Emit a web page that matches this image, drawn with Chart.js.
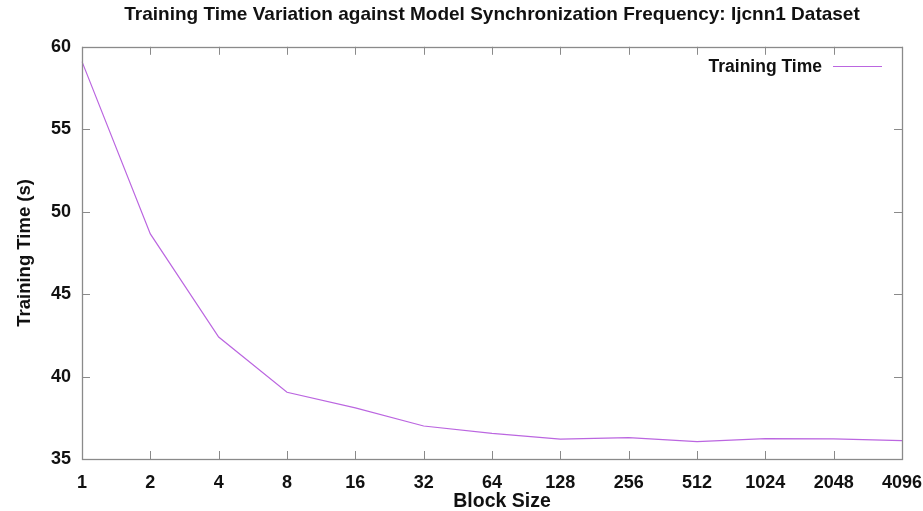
<!DOCTYPE html>
<html>
<head>
<meta charset="utf-8">
<script src="https://cdn.jsdelivr.net/npm/chart.js@4/dist/chart.umd.min.js"></script>
<style>
html,body{margin:0;padding:0;background:#fff;}
#wrap{width:923px;height:511px;position:relative;}
</style>
</head>
<body>
<div id="wrap"><canvas id="c" width="923" height="511"></canvas></div>
<script>
const blockSizes = ["1","2","4","8","16","32","64","128","256","512","1024","2048","4096"];
const trainingTime = [59.1, 48.65, 42.4, 39.05, 38.1, 37.0, 36.55, 36.2, 36.3, 36.05, 36.23, 36.22, 36.12];
const yTicks = [35, 40, 45, 50, 55, 60];
const chartTitle = "Training Time Variation against Model Synchronization Frequency: Ijcnn1 Dataset";
const seriesLabel = "Training Time";
const xTitle = "Block Size";
const yTitle = "Training Time (s)";

const FONT = "'Liberation Sans', Arial, sans-serif";
const LINE_COLOR = '#bb66e0';
const FRAME_COLOR = '#8a8a8a';

const framePlugin = {
  id: 'frame',
  afterDatasetsDraw(chart) {
    const {ctx, chartArea: a, scales} = chart;
    ctx.save();
    ctx.strokeStyle = FRAME_COLOR;
    ctx.lineWidth = 1;
    const T = 8;
    ctx.beginPath();
    scales.x.ticks.forEach((t, i) => {
      const px = Math.round(scales.x.getPixelForTick(i)) + 0.5;
      ctx.moveTo(px, a.bottom); ctx.lineTo(px, a.bottom - T);
      ctx.moveTo(px, a.top); ctx.lineTo(px, a.top + T);
    });
    scales.y.ticks.forEach((t) => {
      const py = Math.round(scales.y.getPixelForValue(t.value)) + 0.5;
      ctx.moveTo(a.left, py); ctx.lineTo(a.left + T, py);
      ctx.moveTo(a.right, py); ctx.lineTo(a.right - T, py);
    });
    ctx.stroke();
    ctx.lineWidth = 1.3;
    ctx.strokeRect(Math.round(a.left) + 0.5, Math.round(a.top) + 0.5, Math.round(a.right - a.left), Math.round(a.bottom - a.top));
    // legend
    const ds = chart.data.datasets[0];
    ctx.font = "bold 17.5px " + FONT;
    ctx.fillStyle = '#111';
    ctx.textAlign = 'right';
    ctx.textBaseline = 'middle';
    ctx.fillText(ds.label, 822, 67);
    ctx.strokeStyle = ds.borderColor;
    ctx.lineWidth = 1;
    ctx.beginPath();
    ctx.moveTo(833, 66.5); ctx.lineTo(882, 66.5);
    ctx.stroke();
    // x axis title (gnuplot places it slightly right of centre)
    ctx.font = "bold 19.5px " + FONT;
    ctx.fillStyle = '#111';
    ctx.textAlign = 'center';
    ctx.fillText(xTitle, (a.left + a.right) / 2 + 10, 502);
    ctx.restore();
  }
};

new Chart(document.getElementById('c'), {
  type: 'line',
  data: {
    labels: blockSizes,
    datasets: [{
      label: seriesLabel,
      data: trainingTime,
      borderColor: LINE_COLOR,
      borderWidth: 1.2,
      pointRadius: 0,
      tension: 0,
      fill: false
    }]
  },
  options: {
    responsive: false,
    animation: false,
    devicePixelRatio: 1,
    layout: {padding: {left: 0, right: 21, top: 0, bottom: 0}},
    plugins: {
      legend: {display: false},
      tooltip: {enabled: false},
      title: {
        display: true,
        fullSize: false,
        text: chartTitle,
        color: '#111',
        font: {family: FONT, size: 19, weight: 'bold'},
        padding: {top: 3, bottom: 21}
      }
    },
    scales: {
      x: {
        type: 'category',
        offset: false,
        grid: {display: false, drawTicks: false},
        border: {display: false},
        ticks: {
          color: '#111',
          font: {family: FONT, size: 18, weight: 'bold'},
          padding: 13,
          maxRotation: 0,
          autoSkip: false
        },
        title: {display: false},
        afterFit(s) { s.height = 52; s.paddingRight = 0; s.paddingLeft = 0; }
      },
      y: {
        min: 35, max: 60,
        afterBuildTicks(s) { s.ticks = yTicks.map(v => ({value: v})); },
        grid: {display: false, drawTicks: false},
        border: {display: false},
        ticks: {
          color: '#111',
          font: {family: FONT, size: 18, weight: 'bold'},
          padding: 11
        },
        title: {
          display: true,
          text: yTitle,
          color: '#111',
          font: {family: FONT, size: 18.5, weight: 'bold'},
          padding: {top: 14, bottom: 0}
        },
        afterFit(s) { s.width = 82; }
      }
    }
  },
  plugins: [framePlugin]
});
</script>
</body>
</html>
